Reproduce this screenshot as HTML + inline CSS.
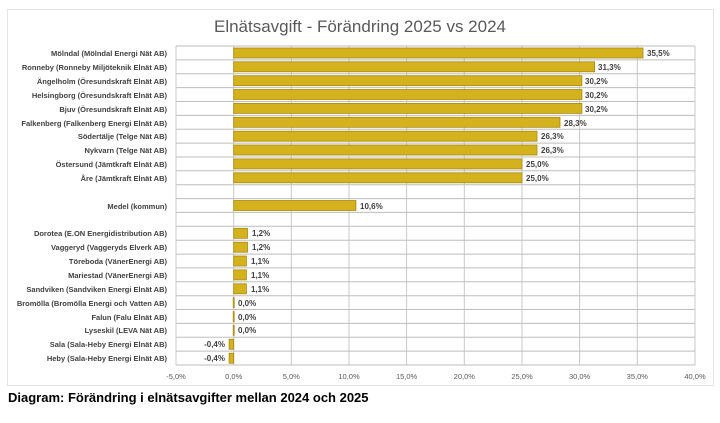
<!DOCTYPE html>
<html><head><meta charset="utf-8"><style>
body{margin:0;background:#fff;width:720px;height:418px;overflow:hidden;font-family:"Liberation Sans",sans-serif}
svg text{font-family:"Liberation Sans",sans-serif}
</style></head><body>
<svg width="720" height="418" xmlns="http://www.w3.org/2000/svg">
<rect x="7.5" y="9.5" width="706" height="376" fill="#fff" stroke="#e4e4e4"/>
<text x="360" y="32" font-size="17" fill="#595959" text-anchor="middle">Elnätsavgift - Förändring 2025 vs 2024</text>
<g stroke="#c8c8c8" stroke-width="1">
<line x1="176" y1="46" x2="176" y2="365"/><line x1="233.7" y1="46" x2="233.7" y2="365"/><line x1="291.3" y1="46" x2="291.3" y2="365"/><line x1="349" y1="46" x2="349" y2="365"/><line x1="406.6" y1="46" x2="406.6" y2="365"/><line x1="464.3" y1="46" x2="464.3" y2="365"/><line x1="522" y1="46" x2="522" y2="365"/><line x1="579.6" y1="46" x2="579.6" y2="365"/><line x1="637.3" y1="46" x2="637.3" y2="365"/><line x1="695" y1="46" x2="695" y2="365"/>
</g>
<g stroke="#bdbdbd" stroke-width="1">
<line x1="176" x2="695" y1="46" y2="46"/><line x1="176" x2="695" y1="59.9" y2="59.9"/><line x1="176" x2="695" y1="73.7" y2="73.7"/><line x1="176" x2="695" y1="87.6" y2="87.6"/><line x1="176" x2="695" y1="101.5" y2="101.5"/><line x1="176" x2="695" y1="115.4" y2="115.4"/><line x1="176" x2="695" y1="129.2" y2="129.2"/><line x1="176" x2="695" y1="143.1" y2="143.1"/><line x1="176" x2="695" y1="157" y2="157"/><line x1="176" x2="695" y1="170.8" y2="170.8"/><line x1="176" x2="695" y1="184.7" y2="184.7"/><line x1="176" x2="695" y1="198.6" y2="198.6"/><line x1="176" x2="695" y1="212.4" y2="212.4"/><line x1="176" x2="695" y1="226.3" y2="226.3"/><line x1="176" x2="695" y1="240.2" y2="240.2"/><line x1="176" x2="695" y1="254.1" y2="254.1"/><line x1="176" x2="695" y1="267.9" y2="267.9"/><line x1="176" x2="695" y1="281.8" y2="281.8"/><line x1="176" x2="695" y1="295.7" y2="295.7"/><line x1="176" x2="695" y1="309.5" y2="309.5"/><line x1="176" x2="695" y1="323.4" y2="323.4"/><line x1="176" x2="695" y1="337.3" y2="337.3"/><line x1="176" x2="695" y1="351.1" y2="351.1"/><line x1="176" x2="695" y1="365" y2="365"/>
</g>
<g fill="#D4B21E" stroke="#a88a10" stroke-width="0.8">
<rect x="233.7" y="48" width="409.3" height="10"/>
<rect x="233.7" y="61.8" width="360.9" height="10"/>
<rect x="233.7" y="75.7" width="348.2" height="10"/>
<rect x="233.7" y="89.5" width="348.2" height="10"/>
<rect x="233.7" y="103.4" width="348.2" height="10"/>
<rect x="233.7" y="117.3" width="326.3" height="10"/>
<rect x="233.7" y="131.2" width="303.3" height="10"/>
<rect x="233.7" y="145" width="303.3" height="10"/>
<rect x="233.7" y="158.9" width="288.3" height="10"/>
<rect x="233.7" y="172.8" width="288.3" height="10"/>
<rect x="233.7" y="200.5" width="122.2" height="10"/>
<rect x="233.7" y="228.3" width="13.8" height="10"/>
<rect x="233.7" y="242.2" width="13.8" height="10"/>
<rect x="233.7" y="256" width="12.7" height="10"/>
<rect x="233.7" y="269.9" width="12.7" height="10"/>
<rect x="233.7" y="283.8" width="12.7" height="10"/>
<rect x="233.2" y="297.7" width="1" height="10"/>
<rect x="233.2" y="311.6" width="1" height="10"/>
<rect x="233.2" y="325.4" width="1" height="10"/>
<rect x="229.1" y="339.3" width="4.6" height="10"/>
<rect x="229.1" y="353.2" width="4.6" height="10"/>
</g>
<g font-size="8" font-weight="bold" fill="#404040">
<text x="647" y="56">35,5%</text><text x="598" y="70">31,3%</text><text x="585" y="84">30,2%</text><text x="585" y="98">30,2%</text><text x="585" y="112">30,2%</text><text x="564" y="126">28,3%</text><text x="541" y="139">26,3%</text><text x="541" y="153">26,3%</text><text x="526" y="167">25,0%</text><text x="526" y="181">25,0%</text><text x="360" y="209">10,6%</text><text x="252" y="236">1,2%</text><text x="252" y="250">1,2%</text><text x="251" y="264">1,1%</text><text x="251" y="278">1,1%</text><text x="251" y="292">1,1%</text><text x="238" y="306">0,0%</text><text x="238" y="320">0,0%</text><text x="238" y="333">0,0%</text>
<text x="225" y="347" text-anchor="end">-0,4%</text><text x="225" y="361" text-anchor="end">-0,4%</text>
</g>
<g font-size="7.5" font-weight="bold" fill="#404040" text-anchor="end">
<text x="167" y="56">Mölndal (Mölndal Energi Nät AB)</text>
<text x="167" y="70">Ronneby (Ronneby Miljöteknik Elnät AB)</text>
<text x="167" y="84">Ängelholm (Öresundskraft Elnät AB)</text>
<text x="167" y="98">Helsingborg (Öresundskraft Elnät AB)</text>
<text x="167" y="112">Bjuv (Öresundskraft Elnät AB)</text>
<text x="167" y="126">Falkenberg (Falkenberg Energi Elnät AB)</text>
<text x="167" y="139">Södertälje (Telge Nät AB)</text>
<text x="167" y="153">Nykvarn (Telge Nät AB)</text>
<text x="167" y="167">Östersund (Jämtkraft Elnät AB)</text>
<text x="167" y="181">Åre (Jämtkraft Elnät AB)</text>
<text x="167" y="209">Medel (kommun)</text>
<text x="167" y="236">Dorotea (E.ON Energidistribution AB)</text>
<text x="167" y="250">Vaggeryd (Vaggeryds Elverk AB)</text>
<text x="167" y="264">Töreboda (VänerEnergi AB)</text>
<text x="167" y="278">Mariestad (VänerEnergi AB)</text>
<text x="167" y="292">Sandviken (Sandviken Energi Elnät AB)</text>
<text x="167" y="306">Bromölla (Bromölla Energi och Vatten AB)</text>
<text x="167" y="320">Falun (Falu Elnät AB)</text>
<text x="167" y="333">Lyseskil (LEVA Nät AB)</text>
<text x="167" y="347">Sala (Sala-Heby Energi Elnät AB)</text>
<text x="167" y="361">Heby (Sala-Heby Energi Elnät AB)</text>
</g>
<g font-size="7.5" fill="#595959" text-anchor="middle">
<text x="176" y="379">-5,0%</text><text x="233.7" y="379">0,0%</text><text x="291.3" y="379">5,0%</text><text x="349" y="379">10,0%</text><text x="406.6" y="379">15,0%</text><text x="464.3" y="379">20,0%</text><text x="522" y="379">25,0%</text><text x="579.6" y="379">30,0%</text><text x="637.3" y="379">35,0%</text><text x="695" y="379">40,0%</text>
</g>
<text x="8" y="402" font-size="13" font-weight="bold" fill="#000">Diagram: Förändring i elnätsavgifter mellan 2024 och 2025</text>
</svg>
</body></html>
